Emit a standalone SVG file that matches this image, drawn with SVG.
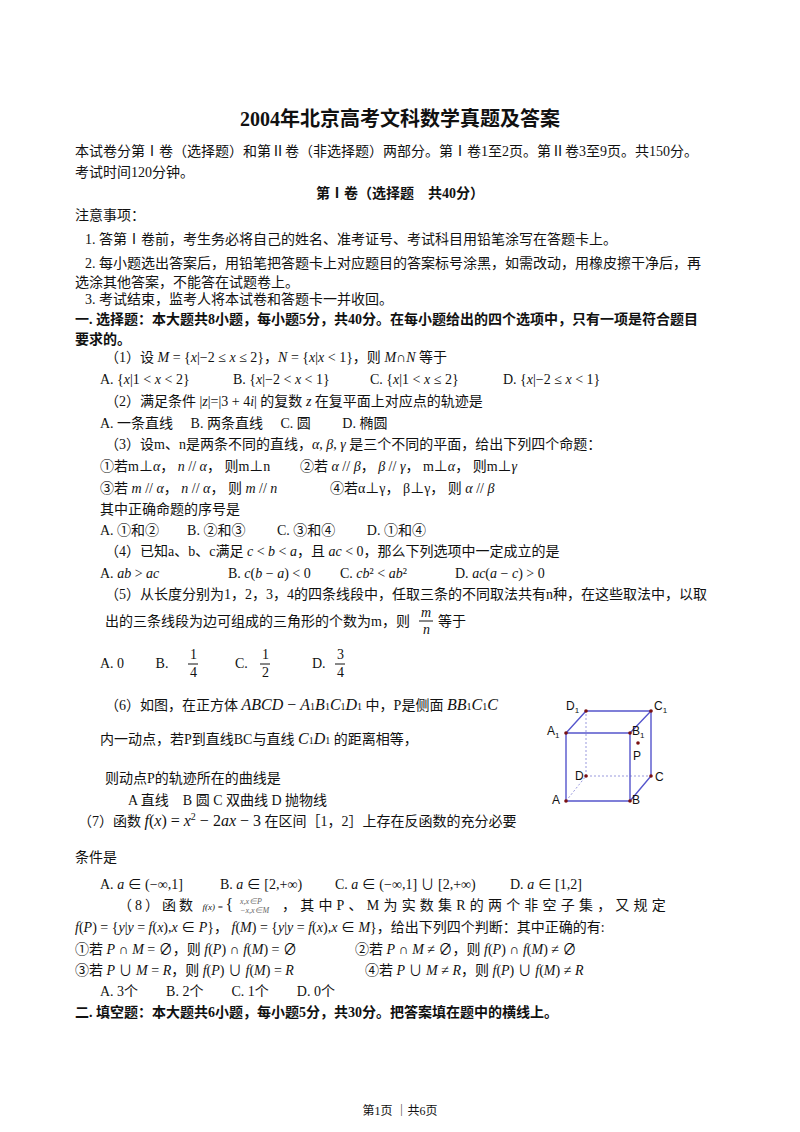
<svg xmlns="http://www.w3.org/2000/svg" width="800" height="1132" viewBox="0 0 800 1132">
<style>
text{font-family:"Liberation Serif","Noto Sans CJK SC",serif;font-size:14px;fill:#111}
.b{font-weight:bold}
.i{font-style:italic}
.e{stroke:#5555cc;stroke-width:1.4;fill:none}
.d{stroke:#9999dd;stroke-width:1;stroke-dasharray:2 2;fill:none}
.l{font-family:"Liberation Sans",sans-serif;font-size:12px}
</style>
<rect width="800" height="1132" fill="#fff"/>
<text x="400" y="126" text-anchor="middle" class="b" style="font-size:20px">2004年北京高考文科数学真题及答案</text>
<text x="75" y="156">本试卷分第Ⅰ卷（选择题）和第Ⅱ卷（非选择题）两部分。第Ⅰ卷1至2页。第Ⅱ卷3至9页。共150分。</text>
<text x="75" y="177">考试时间120分钟。</text>
<text x="400" y="198" text-anchor="middle" class="b">第Ⅰ卷（选择题　共40分）</text>
<text x="75" y="220">注意事项：</text>
<text x="85" y="244">1. 答第Ⅰ卷前，考生务必将自己的姓名、准考证号、考试科目用铅笔涂写在答题卡上。</text>
<text x="85" y="268">2. 每小题选出答案后，用铅笔把答题卡上对应题目的答案标号涂黑，如需改动，用橡皮擦干净后，再</text>
<text x="75" y="287">选涂其他答案，不能答在试题卷上。</text>
<text x="85" y="304">3. 考试结束，监考人将本试卷和答题卡一并收回。</text>
<text x="75" y="324" class="b">一. 选择题：本大题共8小题，每小题5分，共40分。在每小题给出的四个选项中，只有一项是符合题目</text>
<text x="75" y="344" class="b">要求的。</text>
<text x="105" y="362">（1）设 <tspan class="i">M</tspan> = {<tspan class="i">x</tspan>|−2 ≤ <tspan class="i">x</tspan> ≤ 2}，<tspan class="i">N</tspan> = {<tspan class="i">x</tspan>|<tspan class="i">x</tspan> &lt; 1}，则 <tspan class="i">M</tspan>∩<tspan class="i">N</tspan> 等于</text>
<text x="100" y="384">A.  {<tspan class="i">x</tspan>|1 &lt; <tspan class="i">x</tspan> &lt; 2}</text>
<text x="233" y="384">B.  {<tspan class="i">x</tspan>|−2 &lt; <tspan class="i">x</tspan> &lt; 1}</text>
<text x="370" y="384">C.  {<tspan class="i">x</tspan>|1 &lt; <tspan class="i">x</tspan> ≤ 2}</text>
<text x="503" y="384">D.  {<tspan class="i">x</tspan>|−2 ≤ <tspan class="i">x</tspan> &lt; 1}</text>
<text x="105" y="406">（2）满足条件 |<tspan class="i">z</tspan>|=|3 + 4<tspan class="i">i</tspan>| 的复数 <tspan class="i">z</tspan> 在复平面上对应点的轨迹是</text>
<text x="100" y="428">A.  一条直线　 B.  两条直线　 C.  圆　　 D.  椭圆</text>
<text x="105" y="449">（3）设m、n是两条不同的直线，<tspan class="i">α</tspan>, <tspan class="i">β</tspan>, <tspan class="i">γ</tspan> 是三个不同的平面，给出下列四个命题：</text>
<text x="100" y="471">①若m⊥<tspan class="i">α</tspan>， <tspan class="i">n</tspan> // <tspan class="i">α</tspan>， 则m⊥n</text>
<text x="300" y="471">②若 <tspan class="i">α</tspan> // <tspan class="i">β</tspan>， <tspan class="i">β</tspan> // <tspan class="i">γ</tspan>， m⊥<tspan class="i">α</tspan>， 则m⊥<tspan class="i">γ</tspan></text>
<text x="100" y="493">③若 <tspan class="i">m</tspan> // <tspan class="i">α</tspan>， <tspan class="i">n</tspan> // <tspan class="i">α</tspan>， 则 <tspan class="i">m</tspan> // <tspan class="i">n</tspan></text>
<text x="330" y="493">④若α⊥γ， β⊥γ， 则 <tspan class="i">α</tspan> // <tspan class="i">β</tspan></text>
<text x="100" y="514">其中正确命题的序号是</text>
<text x="100" y="535">A.  ①和②　　B.  ②和③　　 C.  ③和④　　 D.  ①和④</text>
<text x="105" y="556">（4）已知a、b、c满足 <tspan class="i">c</tspan> &lt; <tspan class="i">b</tspan> &lt; <tspan class="i">a</tspan>，且 <tspan class="i">ac</tspan> &lt; 0，那么下列选项中一定成立的是</text>
<text x="100" y="578">A.   <tspan class="i">ab</tspan> &gt; <tspan class="i">ac</tspan></text>
<text x="228" y="578">B.   <tspan class="i">c</tspan>(<tspan class="i">b</tspan> − <tspan class="i">a</tspan>) &lt; 0</text>
<text x="340" y="578">C.   <tspan class="i">cb</tspan>² &lt; <tspan class="i">ab</tspan>²</text>
<text x="455" y="578">D.   <tspan class="i">ac</tspan>(<tspan class="i">a</tspan> − <tspan class="i">c</tspan>) &gt; 0</text>
<text x="105" y="599">（5）从长度分别为1，2，3，4的四条线段中，任取三条的不同取法共有n种，在这些取法中，以取</text>
<text x="105" y="626">出的三条线段为边可组成的三角形的个数为m，则</text>
<text x="421" y="617" class="i">m</text><line x1="419" y1="621" x2="433" y2="621" stroke="#111"/><text x="423" y="634" class="i">n</text>
<text x="438" y="626">等于</text>
<text x="100" y="668">A.  0　　 B.</text>
<text x="190" y="659">1</text><line x1="188" y1="664" x2="198" y2="664" stroke="#111"/><text x="190" y="677">4</text>
<text x="235" y="668">C.</text>
<text x="262" y="659">1</text><line x1="260" y1="664" x2="270" y2="664" stroke="#111"/><text x="262" y="677">2</text>
<text x="312" y="668">D.</text>
<text x="337" y="659">3</text><line x1="335" y1="664" x2="345" y2="664" stroke="#111"/><text x="337" y="677">4</text>
<text x="105" y="710">（6）如图，在正方体 <tspan class="i" style="font-size:16px">ABCD</tspan><tspan style="font-size:16px"> − </tspan><tspan class="i" style="font-size:16px">A</tspan><tspan style="font-size:10px">1</tspan><tspan class="i" style="font-size:16px">B</tspan><tspan style="font-size:10px">1</tspan><tspan class="i" style="font-size:16px">C</tspan><tspan style="font-size:10px">1</tspan><tspan class="i" style="font-size:16px">D</tspan><tspan style="font-size:10px">1</tspan> 中，P是侧面 <tspan class="i" style="font-size:16px">BB</tspan><tspan style="font-size:10px">1</tspan><tspan class="i" style="font-size:16px">C</tspan><tspan style="font-size:10px">1</tspan><tspan class="i" style="font-size:16px">C</tspan></text>
<text x="100" y="744">内一动点，若P到直线BC与直线 <tspan class="i" style="font-size:16px">C</tspan><tspan style="font-size:10px">1</tspan><tspan class="i" style="font-size:16px">D</tspan><tspan style="font-size:10px">1</tspan> 的距离相等，</text>
<text x="105" y="783">则动点P的轨迹所在的曲线是</text>
<text x="128" y="805">A 直线　B 圆  C 双曲线  D 抛物线</text>
<text x="78" y="826">（7）函数 <tspan class="i" style="font-size:16px">f</tspan><tspan style="font-size:16px">(</tspan><tspan class="i" style="font-size:16px">x</tspan><tspan style="font-size:16px">) = </tspan><tspan class="i" style="font-size:16px">x</tspan><tspan style="font-size:10px" dy="-6">2</tspan><tspan style="font-size:16px" dy="6"> − 2</tspan><tspan class="i" style="font-size:16px">ax</tspan><tspan style="font-size:16px"> − 3</tspan> 在区间［1，2］上存在反函数的充分必要</text>
<text x="75" y="862">条件是</text>
<text x="100" y="889">A.  <tspan class="i">a</tspan> ∈ (−∞,1]</text>
<text x="220" y="889">B.  <tspan class="i">a</tspan> ∈ [2,+∞)</text>
<text x="335" y="889">C.  <tspan class="i">a</tspan> ∈ (−∞,1] ∪ [2,+∞)</text>
<text x="510" y="889">D.  <tspan class="i">a</tspan> ∈ [1,2]</text>
<text x="118" y="910" style="letter-spacing:3px">（8）函数 <tspan class="i" style="font-size:9px;letter-spacing:0">f(x) = </tspan><tspan style="font-size:16px">{</tspan></text>
<text x="240" y="904" class="i" style="font-size:8px;fill:#666">x,x∈P</text>
<text x="240" y="913" class="i" style="font-size:8px;fill:#666">−x,x∈M</text>
<text x="282" y="910" style="letter-spacing:4.2px">，其中P、M为实数集R的两个非空子集，又规定</text>
<text x="75" y="932"><tspan class="i">f</tspan>(<tspan class="i">P</tspan>) = {<tspan class="i">y</tspan>|<tspan class="i">y</tspan> = <tspan class="i">f</tspan>(<tspan class="i">x</tspan>),<tspan class="i">x</tspan> ∈ <tspan class="i">P</tspan>}， <tspan class="i">f</tspan>(<tspan class="i">M</tspan>) = {<tspan class="i">y</tspan>|<tspan class="i">y</tspan> = <tspan class="i">f</tspan>(<tspan class="i">x</tspan>),<tspan class="i">x</tspan> ∈ <tspan class="i">M</tspan>}，给出下列四个判断：其中正确的有:</text>
<text x="75" y="954">①若 <tspan class="i">P</tspan> ∩ <tspan class="i">M</tspan> = ∅，则 <tspan class="i">f</tspan>(<tspan class="i">P</tspan>) ∩ <tspan class="i">f</tspan>(<tspan class="i">M</tspan>) = ∅</text>
<text x="355" y="954">②若 <tspan class="i">P</tspan> ∩ <tspan class="i">M</tspan> ≠ ∅，则 <tspan class="i">f</tspan>(<tspan class="i">P</tspan>) ∩ <tspan class="i">f</tspan>(<tspan class="i">M</tspan>) ≠ ∅</text>
<text x="75" y="975">③若 <tspan class="i">P</tspan> ∪ <tspan class="i">M</tspan> = <tspan class="i">R</tspan>，则 <tspan class="i">f</tspan>(<tspan class="i">P</tspan>) ∪ <tspan class="i">f</tspan>(<tspan class="i">M</tspan>) = <tspan class="i">R</tspan></text>
<text x="365" y="975">④若 <tspan class="i">P</tspan> ∪ <tspan class="i">M</tspan> ≠ <tspan class="i">R</tspan>，则 <tspan class="i">f</tspan>(<tspan class="i">P</tspan>) ∪ <tspan class="i">f</tspan>(<tspan class="i">M</tspan>) ≠ <tspan class="i">R</tspan></text>
<text x="100" y="996">A.  3个　　B.  2个　　C.  1个　　D.  0个</text>
<text x="75" y="1017" class="b">二.  填空题：本大题共6小题，每小题5分，共30分。把答案填在题中的横线上。</text>
<text x="400" y="1115" text-anchor="middle" style="font-size:12px">第1页  ｜共6页</text>
<g id="cube">
<polyline class="d" points="566,801 586,776 652,776"/>
<line class="d" x1="586" y1="776" x2="586" y2="711"/>
<polyline class="e" points="566,733 566,801 630,801 630,733 566,733 586,711 651,711 630,733"/>
<polyline class="e" points="651,711 651,776 630,801"/>
<g fill="#7a1010"><circle cx="566" cy="733" r="1.8"/><circle cx="586" cy="711" r="1.8"/><circle cx="651" cy="711" r="1.8"/><circle cx="630" cy="733" r="1.8"/><circle cx="566" cy="801" r="1.8"/><circle cx="630" cy="801" r="1.8"/><circle cx="651" cy="776" r="1.8"/><circle cx="586" cy="776" r="1.8"/><circle cx="638" cy="743" r="1.8"/></g>
<text class="l" x="566" y="710">D<tspan font-size="8" dy="3">1</tspan></text>
<text class="l" x="654" y="710">C<tspan font-size="8" dy="3">1</tspan></text>
<text class="l" x="547" y="735">A<tspan font-size="8" dy="3">1</tspan></text>
<text class="l" x="632" y="735">B<tspan font-size="8" dy="3">1</tspan></text>
<text class="l" x="633" y="760">P</text>
<text class="l" x="575" y="780">D</text>
<text class="l" x="655" y="781">C</text>
<text class="l" x="552" y="804">A</text>
<text class="l" x="632" y="804">B</text>
</g>
</svg>
